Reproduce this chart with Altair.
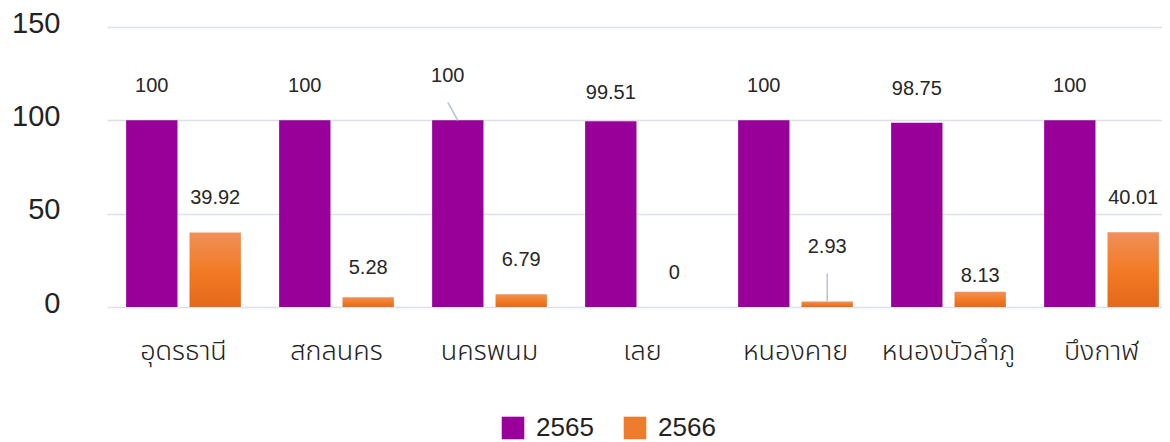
import altair as alt
import pandas as pd

cats = ['อุดรธานี', 'สกลนคร', 'นครพนม', 'เลย', 'หนองคาย', 'หนองบัวลำภู', 'บึงกาฬ']
years = ['2565', '2566']
v2565 = [100, 100, 100, 99.51, 100, 98.75, 100]
v2566 = [39.92, 5.28, 6.79, 0, 2.93, 8.13, 40.01]
y_ticks = [0, 50, 100, 150]

rows = []
for c, a, b in zip(cats, v2565, v2566):
    rows.append({'cat': c, 'year': years[0], 'value': a, 'label': f'{a:g}'})
    rows.append({'cat': c, 'year': years[1], 'value': b, 'label': f'{b:g}'})
df = pd.DataFrame(rows)

FONT = "Liberation Sans, Noto Sans Thai, sans-serif"
PURPLE = '#990099'
ORANGE = '#EF7B2C'
gradient = alt.LinearGradient(
    gradient='linear', x1=0, y1=0, x2=0, y2=1,
    stops=[alt.GradientStop(offset=0, color='#F0905A'),
           alt.GradientStop(offset=0.5, color='#F27B26'),
           alt.GradientStop(offset=1, color='#E4691A')])

x_enc = alt.X('cat:N', sort=cats, title=None,
              scale=alt.Scale(paddingInner=0.25, paddingOuter=0.125, range=[0, 1071]),
              axis=alt.Axis(domain=False, ticks=False, grid=False, labelFontSize=27, labelPadding=31,
                            labelFontWeight=300, domainColor='transparent', tickColor='transparent',
                            gridColor='transparent',
                            labelColor='#222222', labelFont=FONT, labelAngle=0))
xo_enc = alt.XOffset('year:N', sort=years, scale=alt.Scale(paddingInner=0.19, paddingOuter=0))
y_enc = alt.Y('value:Q', title=None, scale=alt.Scale(domain=[0, 150], nice=False),
              axis=alt.Axis(values=y_ticks, domain=False, ticks=False, tickSize=0,
                            domainColor='transparent', tickColor='transparent',
                            labelFontSize=29, labelPadding=47, labelOffset=-4,
                            labelColor='#222222', labelFont=FONT,
                            gridColor='#DCE0E8', gridWidth=1.6))

base = alt.Chart(df).encode(x=x_enc, xOffset=xo_enc, y=y_enc)

bars = base.mark_bar().encode(
    fill=alt.condition(alt.datum.year == '2566', alt.value(gradient), alt.value(PURPLE))
)

legend_layer = base.mark_square(opacity=0, size=10).encode(
    color=alt.Color('year:N', sort=years, title=None,
                    scale=alt.Scale(domain=years, range=[PURPLE, ORANGE]),
                    legend=alt.Legend(orient='none', legendX=393, legendY=388,
                                      direction='horizontal', symbolType='square',
                                      symbolSize=510, symbolOpacity=1, symbolStrokeWidth=0,
                                      labelFontSize=26, labelFont=FONT, labelColor='#222222',
                                      labelOffset=10, columnPadding=28))
)

# label nudges (dx, dy) for individually placed labels
nudges = {
    ('นครพนม', '2565'): (-10, -44),
    ('หนองคาย', '2566'): (0, -55),
    ('หนองบัวลำภู', '2566'): (0, -16),
    ('เลย', '2565'): (0, -28),
    ('สกลนคร', '2566'): (0, -29),
}

def not_special():
    expr = 'true'
    for (c, yr) in nudges:
        expr += f" && !(datum.cat == '{c}' && datum.year == '{yr}')"
    return expr

text_style = dict(fontSize=20, font=FONT, color='#262626', baseline='middle', align='center')
labels = [base.mark_text(dy=-34, **text_style).encode(text='label:N').transform_filter(not_special())]
for (c, yr), (dx, dy) in nudges.items():
    labels.append(
        base.mark_text(dx=dx, dy=dy, **text_style).encode(text='label:N')
        .transform_filter(f"datum.cat == '{c}' && datum.year == '{yr}'")
    )

leader1 = base.mark_point(shape='M0,0L-0.556,-1', size=1296, filled=False,
                          stroke='#B7C3D4', strokeWidth=1.5, opacity=1).transform_filter(
    "datum.cat == 'นครพนม' && datum.year == '2565'")
leader2 = base.mark_point(shape='M0,0L0,-1', size=3136, filled=False,
                          stroke='#B7C3D4', strokeWidth=1.5, opacity=1).transform_filter(
    "datum.cat == 'หนองคาย' && datum.year == '2566'")

chart = alt.layer(bars, leader1, leader2, *labels, legend_layer).properties(
    width=1055, height=280,
    autosize=alt.AutoSizeParams(type='none'),
    padding={'left': 99, 'top': 19, 'right': 0, 'bottom': 135},
    view=alt.ViewBackground(stroke='transparent', strokeWidth=0),
).configure_view(stroke='transparent', strokeWidth=0, strokeOpacity=0).configure_axis(
    domainColor='transparent', tickColor='transparent'
).configure_axisX(
    grid=False, domain=False, gridColor='transparent'
).configure_axisY(domain=False).configure(background='white')

chart.save("out.html", embed_options={"renderer": "svg", "actions": False})
